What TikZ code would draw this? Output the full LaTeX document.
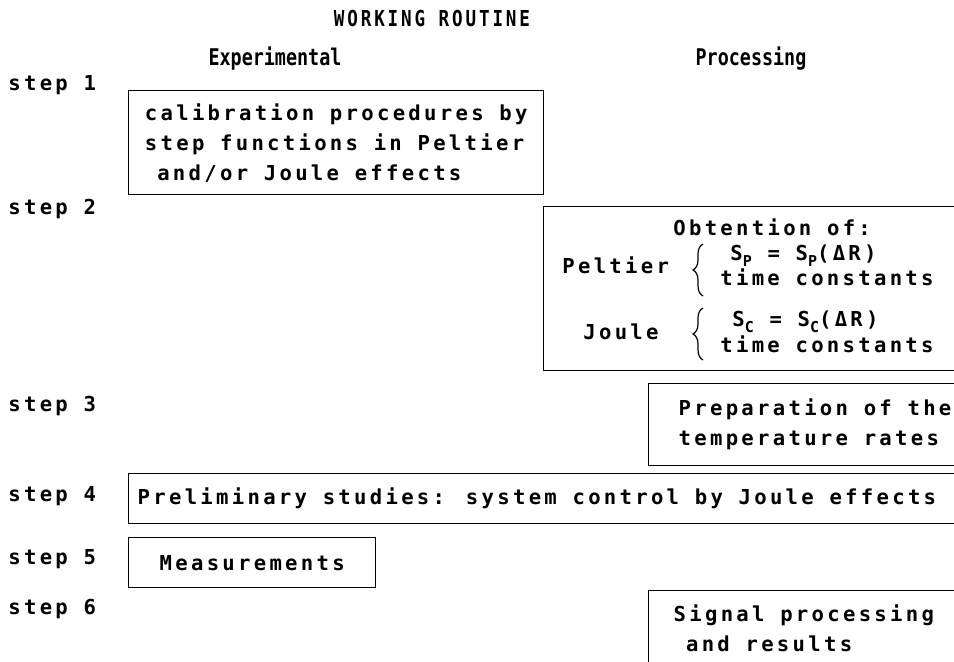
\documentclass[tikz,border=0pt]{standalone}
\usepackage{fontspec}
\usepackage{tikz}
\usetikzlibrary{positioning, decorations.pathreplacing}
\newfontfamily\dotfont[LetterSpace=16]{DejaVu Sans Mono}
\newfontfamily\headfont[FakeStretch=0.8]{DejaVu Sans Mono}
\newfontfamily\titlefont[FakeStretch=0.8,LetterSpace=13]{DejaVu Sans Mono}
\newcommand{\lowidx}[1]{\raisebox{-0.45ex}{\fontsize{7.5}{7.5}\selectfont #1}}
\tikzstyle{box} = [rectangle, draw=black, line width=0.7pt, anchor=north west, inner ysep=0pt, align=left, font=\dotfont\bfseries\fontsize{10.3}{15}\selectfont]
\tikzstyle{txt} = [inner sep=0pt, anchor=base west, font=\dotfont\bfseries\fontsize{10.3}{15}\selectfont]
\tikzstyle{head} = [inner sep=0pt, anchor=base, font=\headfont\bfseries\fontsize{11.5}{12}\selectfont]
\tikzstyle{curly} = [decorate, decoration={brace, amplitude=5pt}, line width=0.6pt]

\begin{document}
\begin{tikzpicture}[x=0.5pt, y=-0.5pt]
    \useasboundingbox (0,0) rectangle (954,662);
    \clip (0,0) rectangle (954,662);

    % Headings
    \node (title) [head, font=\titlefont\bfseries\fontsize{11}{12}\selectfont] at (432,27) {WORKING ROUTINE};
    \node (expt) [head] at (275,66) {Experimental};
    \node (proc) [head] at (751,66) {Processing};

    % Step labels
    \node (s1) [txt] at (8,91) {step 1};
    \node (s2) [txt] at (8,215) {step 2};
    \node (s3) [txt] at (8,412) {step 3};
    \node (s4) [txt] at (8,502) {step 4};
    \node (s5) [txt] at (8,565) {step 5};
    \node (s6) [txt] at (8,615) {step 6};

    % Boxes
    \node (calib) [box, minimum width=207.5pt, minimum height=52pt] at (128,90)
        {calibration procedures by\\step functions in Peltier\\\phantom{a}and/or Joule effects};
    \node (obtain) [box, minimum width=213.5pt, minimum height=82pt] at (543,206) {};
    \node (prep) [box, minimum height=41pt, inner xsep=15pt] at (648,383)
        {Preparation of the\hspace*{20pt}\\temperature rates};
    \node (prelim) [box, minimum height=25pt, inner xsep=4.5pt] at (128,473)
        {Preliminary studies: system control by Joule effects\hspace*{20pt}};
    \node (meas) [box, minimum width=123.5pt, minimum height=25pt] at (128,537) {Measurements};
    \node (signal) [box, minimum height=38pt, inner xsep=12.5pt] at (648,590)
        {Signal processing\hspace*{20pt}\\\phantom{a}and results};

    % Obtention box contents
    \node (obt) [txt] at (673,236) {Obtention of:};
    \node (pelt) [txt] at (562,274) {Peltier};
    \node (sp) [txt] at (730,261) {S\lowidx{P} = S\lowidx{P}(ΔR)};
    \node (ptime) [txt] at (720,286) {time constants};
    \node (joule) [txt] at (583,340) {Joule};
    \node (sc) [txt] at (732,327) {S\lowidx{C} = S\lowidx{C}(ΔR)};
    \node (jtime) [txt] at (720,353) {time constants};

    % Braces
    \coordinate (pbot) at (703,296);
    \coordinate (ptop) at (703,244);
    \coordinate (jbot) at (703,360);
    \coordinate (jtop) at (703,308);
    \draw [curly] (pbot) -- (ptop);
    \draw [curly] (jbot) -- (jtop);
\end{tikzpicture}
\end{document}
